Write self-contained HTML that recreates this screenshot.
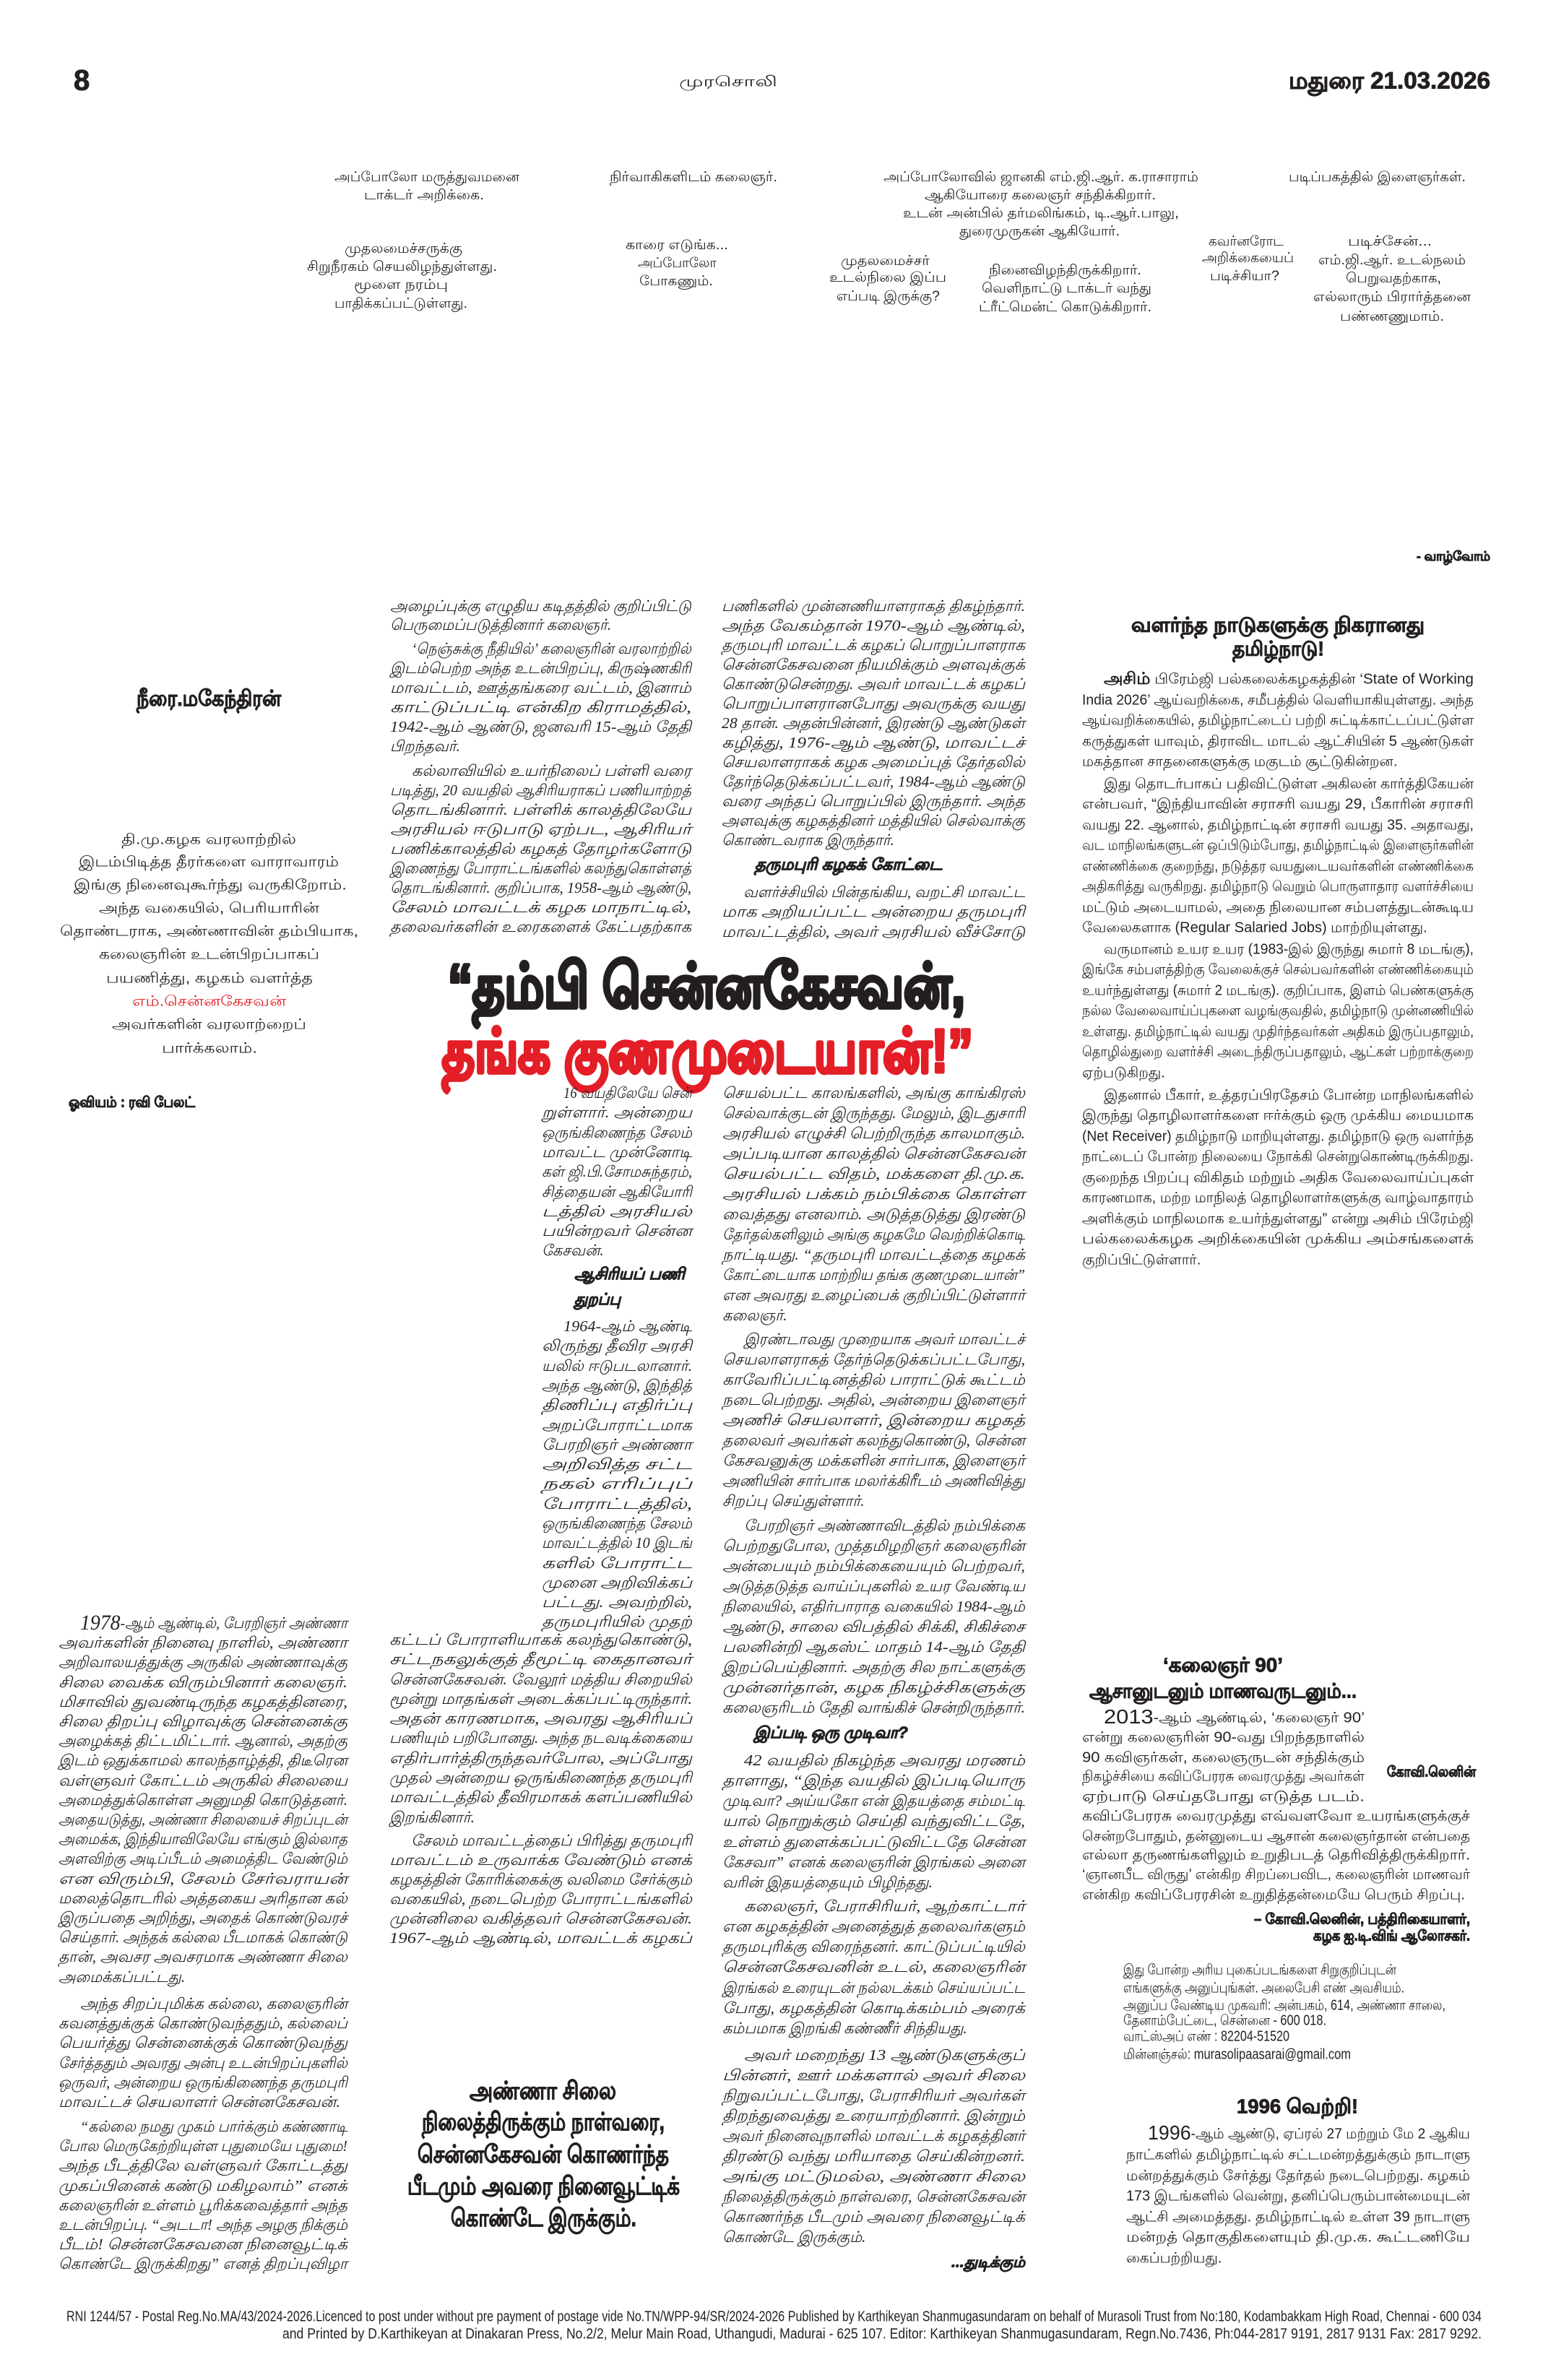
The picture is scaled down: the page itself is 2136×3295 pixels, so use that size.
<!DOCTYPE html>
<html lang="ta">
<head>
<meta charset="utf-8">
<title>முரசொலி - 8</title>
<style>
html,body{margin:0;padding:0;background:#fff;}
svg{display:block;}
text{dominant-baseline:middle;fill:#231f20;}
.b{font-family:"Liberation Serif","Noto Serif CJK SC",serif;font-style:italic;font-size:21px;}
.s{font-family:"Liberation Sans","Noto Sans CJK SC",sans-serif;font-size:20px;}
.cap{font-family:"Liberation Sans","Noto Sans CJK SC",sans-serif;font-size:19px;}
.h{font-family:"Liberation Sans","Noto Sans CJK SC",sans-serif;font-weight:bold;stroke:#231f20;stroke-width:0.9px;}
.red{fill:#e31e26;}
.hl{stroke-width:5px;stroke-linejoin:round;}
.hl.red{stroke:#e31e26;}
</style>
</head>
<body>
<svg width="2136" height="3295" viewBox="0 0 2136 3295" xmlns="http://www.w3.org/2000/svg">
<rect width="2136" height="3295" fill="#fff"/>

<!-- Header -->
<text class="h" x="102" y="114" font-size="40">8</text>
<text class="s" x="1008" y="114" font-size="30" text-anchor="middle" textLength="136" lengthAdjust="spacingAndGlyphs">முரசொலி</text>
<text class="h" x="1784" y="114" font-size="32" textLength="279" lengthAdjust="spacingAndGlyphs">மதுரை 21.03.2026</text>

<!-- Comic captions -->
<g class="cap">
<text class="cap" x="463" y="246" textLength="256" lengthAdjust="spacingAndGlyphs">அப்போலோ மருத்துவமனை</text>
<text class="cap" x="504" y="271" textLength="166" lengthAdjust="spacingAndGlyphs">டாக்டர் அறிக்கை.</text>
<text class="cap" x="844" y="246" textLength="232" lengthAdjust="spacingAndGlyphs">நிர்வாகிகளிடம் கலைஞர்.</text>
<text class="cap" x="1223" y="246" textLength="436" lengthAdjust="spacingAndGlyphs">அப்போலோவில் ஜானகி எம்.ஜி.ஆர். க.ராசாராம்</text>
<text class="cap" x="1280" y="271" textLength="320" lengthAdjust="spacingAndGlyphs">ஆகியோரை கலைஞர் சந்திக்கிறார்.</text>
<text class="cap" x="1250" y="296" textLength="382" lengthAdjust="spacingAndGlyphs">உடன் அன்பில் தர்மலிங்கம், டி.ஆர்.பாலு,</text>
<text class="cap" x="1328" y="321" textLength="222" lengthAdjust="spacingAndGlyphs">துரைமுருகன் ஆகியோர்.</text>
<text class="cap" x="1784" y="246" textLength="245" lengthAdjust="spacingAndGlyphs">படிப்பகத்தில் இளைஞர்கள்.</text>
<text class="cap" x="477" y="345" textLength="163" lengthAdjust="spacingAndGlyphs">முதலமைச்சருக்கு</text>
<text class="cap" x="425" y="370" textLength="263" lengthAdjust="spacingAndGlyphs">சிறுநீரகம் செயலிழந்துள்ளது.</text>
<text class="cap" x="490" y="395" textLength="130" lengthAdjust="spacingAndGlyphs">மூளை நரம்பு</text>
<text class="cap" x="463" y="421" textLength="184" lengthAdjust="spacingAndGlyphs">பாதிக்கப்பட்டுள்ளது.</text>
<text class="cap" x="866" y="340" textLength="142" lengthAdjust="spacingAndGlyphs">காரை எடுங்க...</text>
<text class="cap" x="883" y="365" textLength="109" lengthAdjust="spacingAndGlyphs">அப்போலோ</text>
<text class="cap" x="885" y="390" textLength="102" lengthAdjust="spacingAndGlyphs">போகணும்.</text>
<text class="cap" x="1164" y="362" textLength="123" lengthAdjust="spacingAndGlyphs">முதலமைச்சர்</text>
<text class="cap" x="1148" y="385" textLength="162" lengthAdjust="spacingAndGlyphs">உடல்நிலை இப்ப</text>
<text class="cap" x="1158" y="411" textLength="143" lengthAdjust="spacingAndGlyphs">எப்படி இருக்கு?</text>
<text class="cap" x="1369" y="375" textLength="211" lengthAdjust="spacingAndGlyphs">நினைவிழந்திருக்கிறார்.</text>
<text class="cap" x="1359" y="400" textLength="235" lengthAdjust="spacingAndGlyphs">வெளிநாட்டு டாக்டர் வந்து</text>
<text class="cap" x="1355" y="426" textLength="239" lengthAdjust="spacingAndGlyphs">ட்ரீட்மென்ட் கொடுக்கிறார்.</text>
<text class="cap" x="1673" y="335" textLength="104" lengthAdjust="spacingAndGlyphs">கவர்னரோட</text>
<text class="cap" x="1664" y="358" textLength="127" lengthAdjust="spacingAndGlyphs">அறிக்கையைப்</text>
<text class="cap" x="1675" y="383" textLength="96" lengthAdjust="spacingAndGlyphs">படிச்சியா?</text>
<text class="cap" x="1866" y="335" textLength="116" lengthAdjust="spacingAndGlyphs">படிச்சேன்...</text>
<text class="cap" x="1825" y="361" textLength="204" lengthAdjust="spacingAndGlyphs">எம்.ஜி.ஆர். உடல்நலம்</text>
<text class="cap" x="1863" y="386" textLength="132" lengthAdjust="spacingAndGlyphs">பெறுவதற்காக,</text>
<text class="cap" x="1818" y="412" textLength="218" lengthAdjust="spacingAndGlyphs">எல்லாரும் பிரார்த்தனை</text>
<text class="cap" x="1855" y="439" textLength="144" lengthAdjust="spacingAndGlyphs">பண்ணணுமாம்.</text>
</g>
<text class="h" x="1961" y="771" font-size="18" textLength="102" lengthAdjust="spacingAndGlyphs">- வாழ்வோம்</text>

<!-- Left intro -->
<text class="h" x="189" y="969" font-size="30" textLength="200" lengthAdjust="spacingAndGlyphs">நீரை.மகேந்திரன்</text>
<g class="s" font-size="30">
<text class="s" font-size="31" x="168" y="1163" textLength="242" lengthAdjust="spacingAndGlyphs">தி.மு.கழக வரலாற்றில்</text>
<text class="s" font-size="31" x="109" y="1194" textLength="360" lengthAdjust="spacingAndGlyphs">இடம்பிடித்த தீரர்களை வாராவாரம்</text>
<text class="s" font-size="31" x="102" y="1226" textLength="378" lengthAdjust="spacingAndGlyphs">இங்கு நினைவுகூர்ந்து வருகிறோம்.</text>
<text class="s" font-size="31" x="137" y="1258" textLength="305" lengthAdjust="spacingAndGlyphs">அந்த வகையில், பெரியாரின்</text>
<text class="s" font-size="31" x="83" y="1290" textLength="413" lengthAdjust="spacingAndGlyphs">தொண்டராக, அண்ணாவின் தம்பியாக,</text>
<text class="s" font-size="31" x="137" y="1322" textLength="305" lengthAdjust="spacingAndGlyphs">கலைஞரின் உடன்பிறப்பாகப்</text>
<text class="s" font-size="31" x="147" y="1355" textLength="286" lengthAdjust="spacingAndGlyphs">பயணித்து, கழகம் வளர்த்த</text>
<text class="s red" font-size="31" x="183" y="1387" textLength="213" lengthAdjust="spacingAndGlyphs">எம்.சென்னகேசவன்</text>
<text class="s" font-size="31" x="155" y="1419" textLength="269" lengthAdjust="spacingAndGlyphs">அவர்களின் வரலாற்றைப்</text>
<text class="s" font-size="31" x="224" y="1452" textLength="132" lengthAdjust="spacingAndGlyphs">பார்க்கலாம்.</text>
</g>
<text class="h" x="95" y="1527" font-size="20" textLength="175" lengthAdjust="spacingAndGlyphs">ஓவியம் : ரவி பேலட்</text>

<!-- Column 2 upper -->
<g class="b">
<text class="b" x="540" y="841" textLength="417" lengthAdjust="spacingAndGlyphs">அழைப்புக்கு எழுதிய கடிதத்தில் குறிப்பிட்டு</text>
<text class="b" x="540" y="867">பெருமைப்படுத்தினார் கலைஞர்.</text>
<text class="b" x="570" y="900" textLength="387" lengthAdjust="spacingAndGlyphs">‘நெஞ்சுக்கு நீதியில்’ கலைஞரின் வரலாற்றில்</text>
<text class="b" x="540" y="927" textLength="417" lengthAdjust="spacingAndGlyphs">இடம்பெற்ற அந்த உடன்பிறப்பு, கிருஷ்ணகிரி</text>
<text class="b" x="540" y="954" textLength="417" lengthAdjust="spacingAndGlyphs">மாவட்டம், ஊத்தங்கரை வட்டம், இனாம்</text>
<text class="b" x="540" y="981" textLength="417" lengthAdjust="spacingAndGlyphs">காட்டுப்பட்டி என்கிற கிராமத்தில்,</text>
<text class="b" x="540" y="1008" textLength="417" lengthAdjust="spacingAndGlyphs">1942-ஆம் ஆண்டு, ஜனவரி 15-ஆம் தேதி</text>
<text class="b" x="540" y="1035">பிறந்தவர்.</text>
<text class="b" x="570" y="1069" textLength="387" lengthAdjust="spacingAndGlyphs">கல்லாவியில் உயர்நிலைப் பள்ளி வரை</text>
<text class="b" x="540" y="1096" textLength="417" lengthAdjust="spacingAndGlyphs">படித்து, 20 வயதில் ஆசிரியராகப் பணியாற்றத்</text>
<text class="b" x="540" y="1123" textLength="417" lengthAdjust="spacingAndGlyphs">தொடங்கினார். பள்ளிக் காலத்திலேயே</text>
<text class="b" x="540" y="1150" textLength="417" lengthAdjust="spacingAndGlyphs">அரசியல் ஈடுபாடு ஏற்பட, ஆசிரியர்</text>
<text class="b" x="540" y="1177" textLength="417" lengthAdjust="spacingAndGlyphs">பணிக்காலத்தில் கழகத் தோழர்களோடு</text>
<text class="b" x="540" y="1204" textLength="417" lengthAdjust="spacingAndGlyphs">இணைந்து போராட்டங்களில் கலந்துகொள்ளத்</text>
<text class="b" x="540" y="1231" textLength="417" lengthAdjust="spacingAndGlyphs">தொடங்கினார். குறிப்பாக, 1958-ஆம் ஆண்டு,</text>
<text class="b" x="540" y="1258" textLength="417" lengthAdjust="spacingAndGlyphs">சேலம் மாவட்டக் கழக மாநாட்டில்,</text>
<text class="b" x="540" y="1285" textLength="417" lengthAdjust="spacingAndGlyphs">தலைவர்களின் உரைகளைக் கேட்பதற்காக</text>
</g>

<!-- Column 3 upper -->
<g class="b">
<text class="b" x="999" y="841" textLength="420" lengthAdjust="spacingAndGlyphs">பணிகளில் முன்னணியாளராகத் திகழ்ந்தார்.</text>
<text class="b" x="999" y="868" textLength="420" lengthAdjust="spacingAndGlyphs">அந்த வேகம்தான் 1970-ஆம் ஆண்டில்,</text>
<text class="b" x="999" y="895" textLength="420" lengthAdjust="spacingAndGlyphs">தருமபுரி மாவட்டக் கழகப் பொறுப்பாளராக</text>
<text class="b" x="999" y="922" textLength="420" lengthAdjust="spacingAndGlyphs">சென்னகேசவனை நியமிக்கும் அளவுக்குக்</text>
<text class="b" x="999" y="949" textLength="420" lengthAdjust="spacingAndGlyphs">கொண்டுசென்றது. அவர் மாவட்டக் கழகப்</text>
<text class="b" x="999" y="976" textLength="420" lengthAdjust="spacingAndGlyphs">பொறுப்பாளரானபோது அவருக்கு வயது</text>
<text class="b" x="999" y="1003" textLength="420" lengthAdjust="spacingAndGlyphs">28 தான். அதன்பின்னர், இரண்டு ஆண்டுகள்</text>
<text class="b" x="999" y="1030" textLength="420" lengthAdjust="spacingAndGlyphs">கழித்து, 1976-ஆம் ஆண்டு, மாவட்டச்</text>
<text class="b" x="999" y="1057" textLength="420" lengthAdjust="spacingAndGlyphs">செயலாளராகக் கழக அமைப்புத் தேர்தலில்</text>
<text class="b" x="999" y="1084" textLength="420" lengthAdjust="spacingAndGlyphs">தேர்ந்தெடுக்கப்பட்டவர், 1984-ஆம் ஆண்டு</text>
<text class="b" x="999" y="1111" textLength="420" lengthAdjust="spacingAndGlyphs">வரை அந்தப் பொறுப்பில் இருந்தார். அந்த</text>
<text class="b" x="999" y="1138" textLength="420" lengthAdjust="spacingAndGlyphs">அளவுக்கு கழகத்தினர் மத்தியில் செல்வாக்கு</text>
<text class="b" x="999" y="1165">கொண்டவராக இருந்தார்.</text>
<text class="h" x="1045" y="1198" font-size="22" textLength="259" lengthAdjust="spacingAndGlyphs">தருமபுரி கழகக் கோட்டை</text>
<text class="b" x="1029" y="1237" textLength="390" lengthAdjust="spacingAndGlyphs">வளர்ச்சியில் பின்தங்கிய, வறட்சி மாவட்ட</text>
<text class="b" x="999" y="1264" textLength="420" lengthAdjust="spacingAndGlyphs">மாக அறியப்பட்ட அன்றைய தருமபுரி</text>
<text class="b" x="999" y="1292" textLength="420" lengthAdjust="spacingAndGlyphs">மாவட்டத்தில், அவர் அரசியல் வீச்சோடு</text>
</g>

<!-- Headline -->
<text class="h hl" x="620" y="1372" font-size="84" dominant-baseline="alphabetic" textLength="716" lengthAdjust="spacingAndGlyphs">“தம்பி சென்னகேசவன்,</text>
<text class="h hl red" x="612" y="1462" font-size="84" dominant-baseline="alphabetic" textLength="735" lengthAdjust="spacingAndGlyphs">தங்க குணமுடையான்!”</text>

<!-- Right column upper -->
<text class="h" x="1566" y="867" font-size="28" textLength="406" lengthAdjust="spacingAndGlyphs">வளர்ந்த நாடுகளுக்கு நிகரானது</text>
<text class="h" x="1706" y="900" font-size="28" textLength="127" lengthAdjust="spacingAndGlyphs">தமிழ்நாடு!</text>
<g class="s">
<text class="s" x="1528" y="941" textLength="512" lengthAdjust="spacingAndGlyphs"><tspan font-weight="bold" font-size="23">அசிம்</tspan> பிரேம்ஜி பல்கலைக்கழகத்தின் ‘State of Working</text>
<text class="s" x="1498" y="970" textLength="542" lengthAdjust="spacingAndGlyphs">India 2026’ ஆய்வறிக்கை, சமீபத்தில் வெளியாகியுள்ளது. அந்த</text>
<text class="s" x="1498" y="998" textLength="542" lengthAdjust="spacingAndGlyphs">ஆய்வறிக்கையில், தமிழ்நாட்டைப் பற்றி சுட்டிக்காட்டப்பட்டுள்ள</text>
<text class="s" x="1498" y="1027" textLength="542" lengthAdjust="spacingAndGlyphs">கருத்துகள் யாவும், திராவிட மாடல் ஆட்சியின் 5 ஆண்டுகள்</text>
<text class="s" x="1498" y="1055">மகத்தான சாதனைகளுக்கு மகுடம் சூட்டுகின்றன.</text>
<text class="s" x="1528" y="1086" textLength="512" lengthAdjust="spacingAndGlyphs">இது தொடர்பாகப் பதிவிட்டுள்ள அகிலன் கார்த்திகேயன்</text>
<text class="s" x="1498" y="1114" textLength="542" lengthAdjust="spacingAndGlyphs">என்பவர், “இந்தியாவின் சராசரி வயது 29, பீகாரின் சராசரி</text>
<text class="s" x="1498" y="1143" textLength="542" lengthAdjust="spacingAndGlyphs">வயது 22. ஆனால், தமிழ்நாட்டின் சராசரி வயது 35. அதாவது,</text>
<text class="s" x="1498" y="1171" textLength="542" lengthAdjust="spacingAndGlyphs">வட மாநிலங்களுடன் ஒப்பிடும்போது, தமிழ்நாட்டில் இளைஞர்களின்</text>
<text class="s" x="1498" y="1200" textLength="542" lengthAdjust="spacingAndGlyphs">எண்ணிக்கை குறைந்து, நடுத்தர வயதுடையவர்களின் எண்ணிக்கை</text>
<text class="s" x="1498" y="1228" textLength="542" lengthAdjust="spacingAndGlyphs">அதிகரித்து வருகிறது. தமிழ்நாடு வெறும் பொருளாதார வளர்ச்சியை</text>
<text class="s" x="1498" y="1257" textLength="542" lengthAdjust="spacingAndGlyphs">மட்டும் அடையாமல், அதை நிலையான சம்பளத்துடன்கூடிய</text>
<text class="s" x="1498" y="1285">வேலைகளாக (Regular Salaried Jobs) மாற்றியுள்ளது.</text>
<text class="s" x="1528" y="1315" textLength="512" lengthAdjust="spacingAndGlyphs">வருமானம் உயர உயர (1983-இல் இருந்து சுமார் 8 மடங்கு),</text>
<text class="s" x="1498" y="1343" textLength="542" lengthAdjust="spacingAndGlyphs">இங்கே சம்பளத்திற்கு வேலைக்குச் செல்பவர்களின் எண்ணிக்கையும்</text>
<text class="s" x="1498" y="1372" textLength="542" lengthAdjust="spacingAndGlyphs">உயர்ந்துள்ளது (சுமார் 2 மடங்கு). குறிப்பாக, இளம் பெண்களுக்கு</text>
<text class="s" x="1498" y="1400" textLength="542" lengthAdjust="spacingAndGlyphs">நல்ல வேலைவாய்ப்புகளை வழங்குவதில், தமிழ்நாடு முன்னணியில்</text>
<text class="s" x="1498" y="1429" textLength="542" lengthAdjust="spacingAndGlyphs">உள்ளது. தமிழ்நாட்டில் வயது முதிர்ந்தவர்கள் அதிகம் இருப்பதாலும்,</text>
<text class="s" x="1498" y="1457" textLength="542" lengthAdjust="spacingAndGlyphs">தொழில்துறை வளர்ச்சி அடைந்திருப்பதாலும், ஆட்கள் பற்றாக்குறை</text>
<text class="s" x="1498" y="1486">ஏற்படுகிறது.</text>
<text class="s" x="1528" y="1517" textLength="512" lengthAdjust="spacingAndGlyphs">இதனால் பீகார், உத்தரப்பிரதேசம் போன்ற மாநிலங்களில்</text>
<text class="s" x="1498" y="1545" textLength="542" lengthAdjust="spacingAndGlyphs">இருந்து தொழிலாளர்களை ஈர்க்கும் ஒரு முக்கிய மையமாக</text>
<text class="s" x="1498" y="1574" textLength="542" lengthAdjust="spacingAndGlyphs">(Net Receiver) தமிழ்நாடு மாறியுள்ளது. தமிழ்நாடு ஒரு வளர்ந்த</text>
<text class="s" x="1498" y="1602" textLength="542" lengthAdjust="spacingAndGlyphs">நாட்டைப் போன்ற நிலையை நோக்கி சென்றுகொண்டிருக்கிறது.</text>
<text class="s" x="1498" y="1631" textLength="542" lengthAdjust="spacingAndGlyphs">குறைந்த பிறப்பு விகிதம் மற்றும் அதிக வேலைவாய்ப்புகள்</text>
<text class="s" x="1498" y="1659" textLength="542" lengthAdjust="spacingAndGlyphs">காரணமாக, மற்ற மாநிலத் தொழிலாளர்களுக்கு வாழ்வாதாரம்</text>
<text class="s" x="1498" y="1688" textLength="542" lengthAdjust="spacingAndGlyphs">அளிக்கும் மாநிலமாக உயர்ந்துள்ளது” என்று அசிம் பிரேம்ஜி</text>
<text class="s" x="1498" y="1716" textLength="542" lengthAdjust="spacingAndGlyphs">பல்கலைக்கழக அறிக்கையின் முக்கிய அம்சங்களைக்</text>
<text class="s" x="1498" y="1745">குறிப்பிட்டுள்ளார்.</text>
</g>

<!-- Column 2 lower narrow -->
<g class="b">
<text class="b" x="780" y="1515" textLength="178" lengthAdjust="spacingAndGlyphs">16 வயதிலேயே சென்</text>
<text class="b" x="750" y="1542" textLength="208" lengthAdjust="spacingAndGlyphs">றுள்ளார். அன்றைய</text>
<text class="b" x="750" y="1570" textLength="208" lengthAdjust="spacingAndGlyphs">ஒருங்கிணைந்த சேலம்</text>
<text class="b" x="750" y="1597" textLength="208" lengthAdjust="spacingAndGlyphs">மாவட்ட முன்னோடி</text>
<text class="b" x="750" y="1624" textLength="208" lengthAdjust="spacingAndGlyphs">கள் ஜி.பி.சோமசுந்தரம்,</text>
<text class="b" x="750" y="1652" textLength="208" lengthAdjust="spacingAndGlyphs">சித்தையன் ஆகியோரி</text>
<text class="b" x="750" y="1679" textLength="208" lengthAdjust="spacingAndGlyphs">டத்தில் அரசியல்</text>
<text class="b" x="750" y="1706" textLength="208" lengthAdjust="spacingAndGlyphs">பயின்றவர் சென்ன</text>
<text class="b" x="750" y="1733">கேசவன்.</text>
<text class="h" x="795" y="1765" font-size="22" textLength="153" lengthAdjust="spacingAndGlyphs">ஆசிரியப் பணி</text>
<text class="h" x="795" y="1800" font-size="22" textLength="64" lengthAdjust="spacingAndGlyphs">துறப்பு</text>
<text class="b" x="780" y="1838" textLength="178" lengthAdjust="spacingAndGlyphs">1964-ஆம் ஆண்டி</text>
<text class="b" x="750" y="1865" textLength="208" lengthAdjust="spacingAndGlyphs">லிருந்து தீவிர அரசி</text>
<text class="b" x="750" y="1893" textLength="208" lengthAdjust="spacingAndGlyphs">யலில் ஈடுபடலானார்.</text>
<text class="b" x="750" y="1920" textLength="208" lengthAdjust="spacingAndGlyphs">அந்த ஆண்டு, இந்தித்</text>
<text class="b" x="750" y="1947" textLength="208" lengthAdjust="spacingAndGlyphs">திணிப்பு எதிர்ப்பு</text>
<text class="b" x="750" y="1975" textLength="208" lengthAdjust="spacingAndGlyphs">அறப்போராட்டமாக</text>
<text class="b" x="750" y="2002" textLength="208" lengthAdjust="spacingAndGlyphs">பேரறிஞர் அண்ணா</text>
<text class="b" x="750" y="2029" textLength="208" lengthAdjust="spacingAndGlyphs">அறிவித்த சட்ட</text>
<text class="b" x="750" y="2056" textLength="208" lengthAdjust="spacingAndGlyphs">நகல் எரிப்புப்</text>
<text class="b" x="750" y="2084" textLength="208" lengthAdjust="spacingAndGlyphs">போராட்டத்தில்,</text>
<text class="b" x="750" y="2111" textLength="208" lengthAdjust="spacingAndGlyphs">ஒருங்கிணைந்த சேலம்</text>
<text class="b" x="750" y="2138" textLength="208" lengthAdjust="spacingAndGlyphs">மாவட்டத்தில் 10 இடங்</text>
<text class="b" x="750" y="2166" textLength="208" lengthAdjust="spacingAndGlyphs">களில் போராட்ட</text>
<text class="b" x="750" y="2193" textLength="208" lengthAdjust="spacingAndGlyphs">முனை அறிவிக்கப்</text>
<text class="b" x="750" y="2220" textLength="208" lengthAdjust="spacingAndGlyphs">பட்டது. அவற்றில்,</text>
<text class="b" x="750" y="2247" textLength="208" lengthAdjust="spacingAndGlyphs">தருமபுரியில் முதற்</text>
<text class="b" x="539" y="2272" textLength="419" lengthAdjust="spacingAndGlyphs">கட்டப் போராளியாகக் கலந்துகொண்டு,</text>
<text class="b" x="539" y="2299" textLength="419" lengthAdjust="spacingAndGlyphs">சட்டநகலுக்குத் தீமூட்டி கைதானவர்</text>
<text class="b" x="539" y="2327" textLength="419" lengthAdjust="spacingAndGlyphs">சென்னகேசவன். வேலூர் மத்திய சிறையில்</text>
<text class="b" x="539" y="2354" textLength="419" lengthAdjust="spacingAndGlyphs">மூன்று மாதங்கள் அடைக்கப்பட்டிருந்தார்.</text>
<text class="b" x="539" y="2381" textLength="419" lengthAdjust="spacingAndGlyphs">அதன் காரணமாக, அவரது ஆசிரியப்</text>
<text class="b" x="539" y="2408" textLength="419" lengthAdjust="spacingAndGlyphs">பணியும் பறிபோனது. அந்த நடவடிக்கையை</text>
<text class="b" x="539" y="2436" textLength="419" lengthAdjust="spacingAndGlyphs">எதிர்பார்த்திருந்தவர்போல, அப்போது</text>
<text class="b" x="539" y="2463" textLength="419" lengthAdjust="spacingAndGlyphs">முதல் அன்றைய ஒருங்கிணைந்த தருமபுரி</text>
<text class="b" x="539" y="2490" textLength="419" lengthAdjust="spacingAndGlyphs">மாவட்டத்தில் தீவிரமாகக் களப்பணியில்</text>
<text class="b" x="539" y="2518">இறங்கினார்.</text>
<text class="b" x="569" y="2550" textLength="389" lengthAdjust="spacingAndGlyphs">சேலம் மாவட்டத்தைப் பிரித்து தருமபுரி</text>
<text class="b" x="539" y="2577" textLength="419" lengthAdjust="spacingAndGlyphs">மாவட்டம் உருவாக்க வேண்டும் எனக்</text>
<text class="b" x="539" y="2604" textLength="419" lengthAdjust="spacingAndGlyphs">கழகத்தின் கோரிக்கைக்கு வலிமை சேர்க்கும்</text>
<text class="b" x="539" y="2631" textLength="419" lengthAdjust="spacingAndGlyphs">வகையில், நடைபெற்ற போராட்டங்களில்</text>
<text class="b" x="539" y="2658" textLength="419" lengthAdjust="spacingAndGlyphs">முன்னிலை வகித்தவர் சென்னகேசவன்.</text>
<text class="b" x="539" y="2685" textLength="419" lengthAdjust="spacingAndGlyphs">1967-ஆம் ஆண்டில், மாவட்டக் கழகப்</text>
</g>

<!-- Quote -->
<g>
<text class="h" font-size="34" x="650" y="2897" textLength="203" lengthAdjust="spacingAndGlyphs">அண்ணா சிலை</text>
<text class="h" font-size="34" x="584" y="2940" textLength="336" lengthAdjust="spacingAndGlyphs">நிலைத்திருக்கும் நாள்வரை,</text>
<text class="h" font-size="34" x="578" y="2985" textLength="348" lengthAdjust="spacingAndGlyphs">சென்னகேசவன் கொணர்ந்த</text>
<text class="h" font-size="34" x="564" y="3029" textLength="377" lengthAdjust="spacingAndGlyphs">பீடமும் அவரை நினைவூட்டிக்</text>
<text class="h" font-size="34" x="624" y="3073" textLength="257" lengthAdjust="spacingAndGlyphs">கொண்டே இருக்கும்.</text>
</g>

<!-- Column 3 lower -->
<g class="b">
<text class="b" x="1000" y="1515" textLength="419" lengthAdjust="spacingAndGlyphs">செயல்பட்ட காலங்களில், அங்கு காங்கிரஸ்</text>
<text class="b" x="1000" y="1543" textLength="419" lengthAdjust="spacingAndGlyphs">செல்வாக்குடன் இருந்தது. மேலும், இடதுசாரி</text>
<text class="b" x="1000" y="1571" textLength="419" lengthAdjust="spacingAndGlyphs">அரசியல் எழுச்சி பெற்றிருந்த காலமாகும்.</text>
<text class="b" x="1000" y="1599" textLength="419" lengthAdjust="spacingAndGlyphs">அப்படியான காலத்தில் சென்னகேசவன்</text>
<text class="b" x="1000" y="1627" textLength="419" lengthAdjust="spacingAndGlyphs">செயல்பட்ட விதம், மக்களை தி.மு.க.</text>
<text class="b" x="1000" y="1655" textLength="419" lengthAdjust="spacingAndGlyphs">அரசியல் பக்கம் நம்பிக்கை கொள்ள</text>
<text class="b" x="1000" y="1683" textLength="419" lengthAdjust="spacingAndGlyphs">வைத்தது எனலாம். அடுத்தடுத்து இரண்டு</text>
<text class="b" x="1000" y="1711" textLength="419" lengthAdjust="spacingAndGlyphs">தேர்தல்களிலும் அங்கு கழகமே வெற்றிக்கொடி</text>
<text class="b" x="1000" y="1739" textLength="419" lengthAdjust="spacingAndGlyphs">நாட்டியது. “தருமபுரி மாவட்டத்தை கழகக்</text>
<text class="b" x="1000" y="1767" textLength="419" lengthAdjust="spacingAndGlyphs">கோட்டையாக மாற்றிய தங்க குணமுடையான்”</text>
<text class="b" x="1000" y="1795" textLength="419" lengthAdjust="spacingAndGlyphs">என அவரது உழைப்பைக் குறிப்பிட்டுள்ளார்</text>
<text class="b" x="1000" y="1823">கலைஞர்.</text>
<text class="b" x="1030" y="1856" textLength="389" lengthAdjust="spacingAndGlyphs">இரண்டாவது முறையாக அவர் மாவட்டச்</text>
<text class="b" x="1000" y="1884" textLength="419" lengthAdjust="spacingAndGlyphs">செயலாளராகத் தேர்ந்தெடுக்கப்பட்டபோது,</text>
<text class="b" x="1000" y="1912" textLength="419" lengthAdjust="spacingAndGlyphs">காவேரிப்பட்டினத்தில் பாராட்டுக் கூட்டம்</text>
<text class="b" x="1000" y="1940" textLength="419" lengthAdjust="spacingAndGlyphs">நடைபெற்றது. அதில், அன்றைய இளைஞர்</text>
<text class="b" x="1000" y="1968" textLength="419" lengthAdjust="spacingAndGlyphs">அணிச் செயலாளர், இன்றைய கழகத்</text>
<text class="b" x="1000" y="1996" textLength="419" lengthAdjust="spacingAndGlyphs">தலைவர் அவர்கள் கலந்துகொண்டு, சென்ன</text>
<text class="b" x="1000" y="2024" textLength="419" lengthAdjust="spacingAndGlyphs">கேசவனுக்கு மக்களின் சார்பாக, இளைஞர்</text>
<text class="b" x="1000" y="2052" textLength="419" lengthAdjust="spacingAndGlyphs">அணியின் சார்பாக மலர்க்கிரீடம் அணிவித்து</text>
<text class="b" x="1000" y="2080">சிறப்பு செய்துள்ளார்.</text>
<text class="b" x="1030" y="2114" textLength="389" lengthAdjust="spacingAndGlyphs">பேரறிஞர் அண்ணாவிடத்தில் நம்பிக்கை</text>
<text class="b" x="1000" y="2142" textLength="419" lengthAdjust="spacingAndGlyphs">பெற்றதுபோல, முத்தமிழறிஞர் கலைஞரின்</text>
<text class="b" x="1000" y="2170" textLength="419" lengthAdjust="spacingAndGlyphs">அன்பையும் நம்பிக்கையையும் பெற்றவர்,</text>
<text class="b" x="1000" y="2198" textLength="419" lengthAdjust="spacingAndGlyphs">அடுத்தடுத்த வாய்ப்புகளில் உயர வேண்டிய</text>
<text class="b" x="1000" y="2226" textLength="419" lengthAdjust="spacingAndGlyphs">நிலையில், எதிர்பாராத வகையில் 1984-ஆம்</text>
<text class="b" x="1000" y="2254" textLength="419" lengthAdjust="spacingAndGlyphs">ஆண்டு, சாலை விபத்தில் சிக்கி, சிகிச்சை</text>
<text class="b" x="1000" y="2282" textLength="419" lengthAdjust="spacingAndGlyphs">பலனின்றி ஆகஸ்ட் மாதம் 14-ஆம் தேதி</text>
<text class="b" x="1000" y="2310" textLength="419" lengthAdjust="spacingAndGlyphs">இறப்பெய்தினார். அதற்கு சில நாட்களுக்கு</text>
<text class="b" x="1000" y="2338" textLength="419" lengthAdjust="spacingAndGlyphs">முன்னர்தான், கழக நிகழ்ச்சிகளுக்கு</text>
<text class="b" x="1000" y="2366" textLength="419" lengthAdjust="spacingAndGlyphs">கலைஞரிடம் தேதி வாங்கிச் சென்றிருந்தார்.</text>
<text class="h" x="1044" y="2400" font-size="22" textLength="213" lengthAdjust="spacingAndGlyphs">இப்படி ஒரு முடிவா?</text>
<text class="b" x="1030" y="2439" textLength="389" lengthAdjust="spacingAndGlyphs">42 வயதில் நிகழ்ந்த அவரது மரணம்</text>
<text class="b" x="1000" y="2467" textLength="419" lengthAdjust="spacingAndGlyphs">தாளாது, “இந்த வயதில் இப்படியொரு</text>
<text class="b" x="1000" y="2495" textLength="419" lengthAdjust="spacingAndGlyphs">முடிவா? அய்யகோ என் இதயத்தை சம்மட்டி</text>
<text class="b" x="1000" y="2523" textLength="419" lengthAdjust="spacingAndGlyphs">யால் நொறுக்கும் செய்தி வந்துவிட்டதே,</text>
<text class="b" x="1000" y="2552" textLength="419" lengthAdjust="spacingAndGlyphs">உள்ளம் துளைக்கப்பட்டுவிட்டதே சென்ன</text>
<text class="b" x="1000" y="2580" textLength="419" lengthAdjust="spacingAndGlyphs">கேசவா” எனக் கலைஞரின் இரங்கல் அனை</text>
<text class="b" x="1000" y="2608">வரின் இதயத்தையும் பிழிந்தது.</text>
<text class="b" x="1030" y="2641" textLength="389" lengthAdjust="spacingAndGlyphs">கலைஞர், பேராசிரியர், ஆற்காட்டார்</text>
<text class="b" x="1000" y="2669" textLength="419" lengthAdjust="spacingAndGlyphs">என கழகத்தின் அனைத்துத் தலைவர்களும்</text>
<text class="b" x="1000" y="2697" textLength="419" lengthAdjust="spacingAndGlyphs">தருமபுரிக்கு விரைந்தனர். காட்டுப்பட்டியில்</text>
<text class="b" x="1000" y="2725" textLength="419" lengthAdjust="spacingAndGlyphs">சென்னகேசவனின் உடல், கலைஞரின்</text>
<text class="b" x="1000" y="2754" textLength="419" lengthAdjust="spacingAndGlyphs">இரங்கல் உரையுடன் நல்லடக்கம் செய்யப்பட்ட</text>
<text class="b" x="1000" y="2782" textLength="419" lengthAdjust="spacingAndGlyphs">போது, கழகத்தின் கொடிக்கம்பம் அரைக்</text>
<text class="b" x="1000" y="2810">கம்பமாக இறங்கி கண்ணீர் சிந்தியது.</text>
<text class="b" x="1030" y="2847" textLength="389" lengthAdjust="spacingAndGlyphs">அவர் மறைந்து 13 ஆண்டுகளுக்குப்</text>
<text class="b" x="1000" y="2875" textLength="419" lengthAdjust="spacingAndGlyphs">பின்னர், ஊர் மக்களால் அவர் சிலை</text>
<text class="b" x="1000" y="2903" textLength="419" lengthAdjust="spacingAndGlyphs">நிறுவப்பட்டபோது, பேராசிரியர் அவர்கள்</text>
<text class="b" x="1000" y="2931" textLength="419" lengthAdjust="spacingAndGlyphs">திறந்துவைத்து உரையாற்றினார். இன்றும்</text>
<text class="b" x="1000" y="2959" textLength="419" lengthAdjust="spacingAndGlyphs">அவர் நினைவுநாளில் மாவட்டக் கழகத்தினர்</text>
<text class="b" x="1000" y="2987" textLength="419" lengthAdjust="spacingAndGlyphs">திரண்டு வந்து மரியாதை செய்கின்றனர்.</text>
<text class="b" x="1000" y="3015" textLength="419" lengthAdjust="spacingAndGlyphs">அங்கு மட்டுமல்ல, அண்ணா சிலை</text>
<text class="b" x="1000" y="3043" textLength="419" lengthAdjust="spacingAndGlyphs">நிலைத்திருக்கும் நாள்வரை, சென்னகேசவன்</text>
<text class="b" x="1000" y="3071" textLength="419" lengthAdjust="spacingAndGlyphs">கொணர்ந்த பீடமும் அவரை நினைவூட்டிக்</text>
<text class="b" x="1000" y="3099">கொண்டே இருக்கும்.</text>
<text class="h" x="1317" y="3133" font-size="20" textLength="102" lengthAdjust="spacingAndGlyphs">...துடிக்கும்</text>
</g>

<!-- Left column lower -->
<g class="b">
<text class="b" x="111" y="2249" textLength="370" lengthAdjust="spacingAndGlyphs"><tspan font-size="30">1978</tspan>-ஆம் ஆண்டில், பேரறிஞர் அண்ணா</text>
<text class="b" x="81" y="2276" textLength="400" lengthAdjust="spacingAndGlyphs">அவர்களின் நினைவு நாளில், அண்ணா</text>
<text class="b" x="81" y="2303" textLength="400" lengthAdjust="spacingAndGlyphs">அறிவாலயத்துக்கு அருகில் அண்ணாவுக்கு</text>
<text class="b" x="81" y="2331" textLength="400" lengthAdjust="spacingAndGlyphs">சிலை வைக்க விரும்பினார் கலைஞர்.</text>
<text class="b" x="81" y="2358" textLength="400" lengthAdjust="spacingAndGlyphs">மிசாவில் துவண்டிருந்த கழகத்தினரை,</text>
<text class="b" x="81" y="2385" textLength="400" lengthAdjust="spacingAndGlyphs">சிலை திறப்பு விழாவுக்கு சென்னைக்கு</text>
<text class="b" x="81" y="2412" textLength="400" lengthAdjust="spacingAndGlyphs">அழைக்கத் திட்டமிட்டார். ஆனால், அதற்கு</text>
<text class="b" x="81" y="2439" textLength="400" lengthAdjust="spacingAndGlyphs">இடம் ஒதுக்காமல் காலந்தாழ்த்தி, திடீரென</text>
<text class="b" x="81" y="2467" textLength="400" lengthAdjust="spacingAndGlyphs">வள்ளுவர் கோட்டம் அருகில் சிலையை</text>
<text class="b" x="81" y="2494" textLength="400" lengthAdjust="spacingAndGlyphs">அமைத்துக்கொள்ள அனுமதி கொடுத்தனர்.</text>
<text class="b" x="81" y="2521" textLength="400" lengthAdjust="spacingAndGlyphs">அதையடுத்து, அண்ணா சிலையைச் சிறப்புடன்</text>
<text class="b" x="81" y="2548" textLength="400" lengthAdjust="spacingAndGlyphs">அமைக்க, இந்தியாவிலேயே எங்கும் இல்லாத</text>
<text class="b" x="81" y="2575" textLength="400" lengthAdjust="spacingAndGlyphs">அளவிற்கு அடிப்பீடம் அமைத்திட வேண்டும்</text>
<text class="b" x="81" y="2603" textLength="400" lengthAdjust="spacingAndGlyphs">என விரும்பி, சேலம் சேர்வராயன்</text>
<text class="b" x="81" y="2630" textLength="400" lengthAdjust="spacingAndGlyphs">மலைத்தொடரில் அத்தகைய அரிதான கல்</text>
<text class="b" x="81" y="2657" textLength="400" lengthAdjust="spacingAndGlyphs">இருப்பதை அறிந்து, அதைக் கொண்டுவரச்</text>
<text class="b" x="81" y="2684" textLength="400" lengthAdjust="spacingAndGlyphs">செய்தார். அந்தக் கல்லை பீடமாகக் கொண்டு</text>
<text class="b" x="81" y="2711" textLength="400" lengthAdjust="spacingAndGlyphs">தான், அவசர அவசரமாக அண்ணா சிலை</text>
<text class="b" x="81" y="2739">அமைக்கப்பட்டது.</text>
<text class="b" x="111" y="2776" textLength="370" lengthAdjust="spacingAndGlyphs">அந்த சிறப்புமிக்க கல்லை, கலைஞரின்</text>
<text class="b" x="81" y="2803" textLength="400" lengthAdjust="spacingAndGlyphs">கவனத்துக்குக் கொண்டுவந்ததும், கல்லைப்</text>
<text class="b" x="81" y="2830" textLength="400" lengthAdjust="spacingAndGlyphs">பெயர்த்து சென்னைக்குக் கொண்டுவந்து</text>
<text class="b" x="81" y="2858" textLength="400" lengthAdjust="spacingAndGlyphs">சேர்த்ததும் அவரது அன்பு உடன்பிறப்புகளில்</text>
<text class="b" x="81" y="2885" textLength="400" lengthAdjust="spacingAndGlyphs">ஒருவர், அன்றைய ஒருங்கிணைந்த தருமபுரி</text>
<text class="b" x="81" y="2912" textLength="390" lengthAdjust="spacingAndGlyphs">மாவட்டச் செயலாளர் சென்னகேசவன்.</text>
<text class="b" x="111" y="2946" textLength="370" lengthAdjust="spacingAndGlyphs">“கல்லை நமது முகம் பார்க்கும் கண்ணாடி</text>
<text class="b" x="81" y="2973" textLength="400" lengthAdjust="spacingAndGlyphs">போல மெருகேற்றியுள்ள புதுமையே புதுமை!</text>
<text class="b" x="81" y="3000" textLength="400" lengthAdjust="spacingAndGlyphs">அந்த பீடத்திலே வள்ளுவர் கோட்டத்து</text>
<text class="b" x="81" y="3028" textLength="400" lengthAdjust="spacingAndGlyphs">முகப்பினைக் கண்டு மகிழலாம்” எனக்</text>
<text class="b" x="81" y="3055" textLength="400" lengthAdjust="spacingAndGlyphs">கலைஞரின் உள்ளம் பூரிக்கவைத்தார் அந்த</text>
<text class="b" x="81" y="3082" textLength="400" lengthAdjust="spacingAndGlyphs">உடன்பிறப்பு. “அடடா! அந்த அழகு நிக்கும்</text>
<text class="b" x="81" y="3109" textLength="400" lengthAdjust="spacingAndGlyphs">பீடம்! சென்னகேசவனை நினைவூட்டிக்</text>
<text class="b" x="81" y="3136" textLength="400" lengthAdjust="spacingAndGlyphs">கொண்டே இருக்கிறது” எனத் திறப்புவிழா</text>
</g>

<!-- Right column lower: Kalaignar 90 -->
<text class="h" x="1610" y="2307" font-size="28" textLength="166" lengthAdjust="spacingAndGlyphs">‘கலைஞர் 90’</text>
<text class="h" x="1508" y="2343" font-size="28" textLength="370" lengthAdjust="spacingAndGlyphs">ஆசானுடனும் மாணவருடனும்...</text>
<g class="s">
<text class="s" x="1528" y="2379" textLength="361" lengthAdjust="spacingAndGlyphs"><tspan font-size="28">2013</tspan>-ஆம் ஆண்டில், ‘கலைஞர் 90’</text>
<text class="s" x="1498" y="2406" textLength="391" lengthAdjust="spacingAndGlyphs">என்று கலைஞரின் 90-வது பிறந்தநாளில்</text>
<text class="s" x="1498" y="2434" textLength="391" lengthAdjust="spacingAndGlyphs">90 கவிஞர்கள், கலைஞருடன் சந்திக்கும்</text>
<text class="s" x="1498" y="2460" textLength="391" lengthAdjust="spacingAndGlyphs">நிகழ்ச்சியை கவிப்பேரரசு வைரமுத்து அவர்கள்</text>
<text class="s" x="1498" y="2488" textLength="391" lengthAdjust="spacingAndGlyphs">ஏற்பாடு செய்தபோது எடுத்த படம்.</text>
<text class="s" x="1498" y="2515" textLength="537" lengthAdjust="spacingAndGlyphs">கவிப்பேரரசு வைரமுத்து எவ்வளவோ உயரங்களுக்குச்</text>
<text class="s" x="1498" y="2543" textLength="537" lengthAdjust="spacingAndGlyphs">சென்றபோதும், தன்னுடைய ஆசான் கலைஞர்தான் என்பதை</text>
<text class="s" x="1498" y="2569" textLength="537" lengthAdjust="spacingAndGlyphs">எல்லா தருணங்களிலும் உறுதிபடத் தெரிவித்திருக்கிறார்.</text>
<text class="s" x="1498" y="2596" textLength="537" lengthAdjust="spacingAndGlyphs">‘ஞானபீட விருது’ என்கிற சிறப்பைவிட, கலைஞரின் மாணவர்</text>
<text class="s" x="1498" y="2624" textLength="530" lengthAdjust="spacingAndGlyphs">என்கிற கவிப்பேரரசின் உறுதித்தன்மையே பெரும் சிறப்பு.</text>
</g>
<text class="h" x="1920" y="2454" font-size="20" textLength="123" lengthAdjust="spacingAndGlyphs">கோவி.லெனின்</text>
<text class="h" x="1736" y="2658" font-size="20" textLength="299" lengthAdjust="spacingAndGlyphs">– கோவி.லெனின், பத்திரிகையாளர்,</text>
<text class="h" x="1818" y="2681" font-size="20" textLength="217" lengthAdjust="spacingAndGlyphs">கழக ஐ.டி.விங் ஆலோசகர்.</text>
<g>
<text class="s" font-size="18" x="1555" y="2728" textLength="378" lengthAdjust="spacingAndGlyphs">இது போன்ற அரிய புகைப்படங்களை சிறுகுறிப்புடன்</text>
<text class="s" font-size="18" x="1555" y="2753" textLength="389" lengthAdjust="spacingAndGlyphs">எங்களுக்கு அனுப்புங்கள். அலைபேசி எண் அவசியம்.</text>
<text class="s" font-size="18" x="1555" y="2777" textLength="446" lengthAdjust="spacingAndGlyphs">அனுப்ப வேண்டிய முகவரி: அன்பகம், 614, அண்ணா சாலை,</text>
<text class="s" font-size="18" x="1555" y="2798" textLength="281" lengthAdjust="spacingAndGlyphs">தேனாம்பேட்டை, சென்னை - 600 018.</text>
<text class="s" font-size="18" x="1555" y="2820" textLength="230" lengthAdjust="spacingAndGlyphs">வாட்ஸ்அப் எண் : 82204-51520</text>
<text class="s" font-size="18" x="1555" y="2845" textLength="315" lengthAdjust="spacingAndGlyphs">மின்னஞ்சல்: murasolipaasarai@gmail.com</text>
</g>

<!-- 1996 -->
<text class="h" x="1712" y="2918" font-size="28" textLength="168" lengthAdjust="spacingAndGlyphs">1996 வெற்றி!</text>
<g class="s">
<text class="s" x="1589" y="2955" textLength="446" lengthAdjust="spacingAndGlyphs"><tspan font-size="28">1996</tspan>-ஆம் ஆண்டு, ஏப்ரல் 27 மற்றும் மே 2 ஆகிய</text>
<text class="s" x="1559" y="2984" textLength="476" lengthAdjust="spacingAndGlyphs">நாட்களில் தமிழ்நாட்டில் சட்டமன்றத்துக்கும் நாடாளு</text>
<text class="s" x="1559" y="3013" textLength="476" lengthAdjust="spacingAndGlyphs">மன்றத்துக்கும் சேர்த்து தேர்தல் நடைபெற்றது. கழகம்</text>
<text class="s" x="1559" y="3041" textLength="476" lengthAdjust="spacingAndGlyphs">173 இடங்களில் வென்று, தனிப்பெரும்பான்மையுடன்</text>
<text class="s" x="1559" y="3070" textLength="476" lengthAdjust="spacingAndGlyphs">ஆட்சி அமைத்தது. தமிழ்நாட்டில் உள்ள 39 நாடாளு</text>
<text class="s" x="1559" y="3098" textLength="476" lengthAdjust="spacingAndGlyphs">மன்றத் தொகுதிகளையும் தி.மு.க. கூட்டணியே</text>
<text class="s" x="1559" y="3127">கைப்பற்றியது.</text>
</g>

<!-- Footer -->
<text class="s" font-size="18" x="92" y="3208" textLength="1959" lengthAdjust="spacingAndGlyphs">RNI 1244/57 - Postal Reg.No.MA/43/2024-2026.Licenced to post under without pre payment of postage vide No.TN/WPP-94/SR/2024-2026 Published by Karthikeyan Shanmugasundaram on behalf of Murasoli Trust from No:180, Kodambakkam High Road, Chennai - 600 034</text>
<text class="s" font-size="18" x="391" y="3232" textLength="1660" lengthAdjust="spacingAndGlyphs">and Printed by D.Karthikeyan at Dinakaran Press, No.2/2, Melur Main Road, Uthangudi, Madurai - 625 107. Editor: Karthikeyan Shanmugasundaram, Regn.No.7436, Ph:044-2817 9191, 2817 9131 Fax: 2817 9292.</text>
</svg>
</body>
</html>
